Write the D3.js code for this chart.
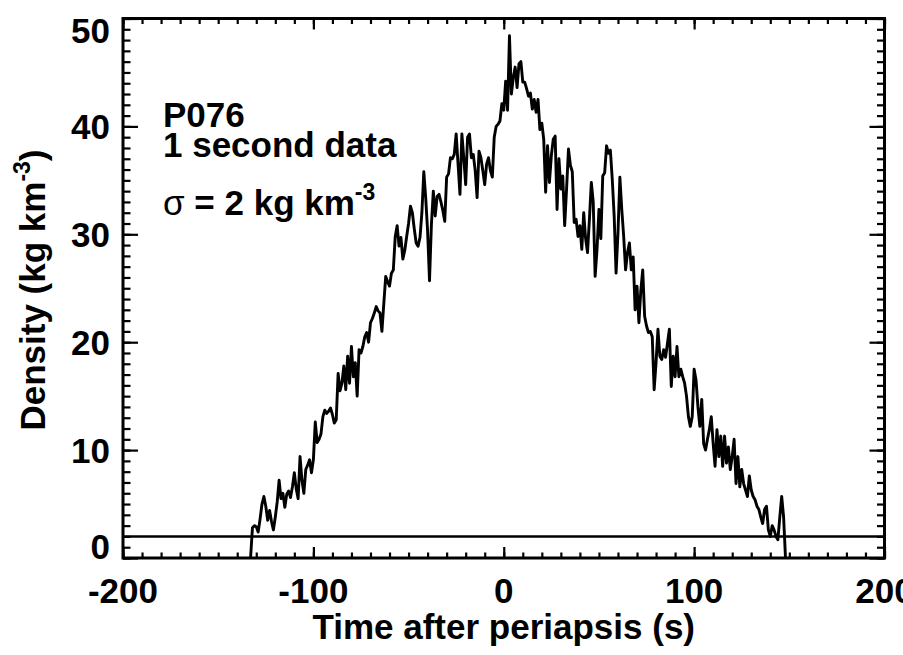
<!DOCTYPE html>
<html>
<head>
<meta charset="utf-8">
<script src="https://cdnjs.cloudflare.com/ajax/libs/d3/7.8.5/d3.min.js"></script>
<style>
  body { margin: 0; background: #fff; }
  svg { display: block; }
  text { font-family: "Liberation Sans", Arial, Helvetica, sans-serif; font-weight: bold; fill: #000; }
</style>
</head>
<body>
<svg id="chart"></svg>
<script>
// P076 density, one sample per second starting at t = -133 s
var startTime = -133;
var density = [
  0, 2.8, 3.0, 2.9, 2.4, 3.6, 5.0, 5.7, 4.8, 3.5,
  4.4, 3.4, 2.6, 3.8, 5.2, 7.2, 5.5, 6.0, 4.7, 5.9,
  6.2, 5.6, 6.6, 7.9, 6.4, 5.5, 9.4, 7.2, 6.0, 8.2,
  8.6, 9.1, 7.9, 9.1, 12.6, 10.7, 11.0, 11.5, 13.1, 13.7,
  13.4, 13.6, 13.9, 13.3, 12.5, 12.8, 17.1, 15.5, 16.2, 17.8,
  15.6, 18.7, 16.2, 19.6, 16.8, 18.1, 15.0, 19.3, 19.0, 19.6,
  20.5, 20.9, 20.0, 21.8, 22.2, 22.7, 23.3, 22.9, 22.7, 21.0,
  23.6, 26.1, 25.6, 25.2, 26.4, 26.7, 29.8, 30.8, 28.9, 29.7,
  27.7, 28.5, 29.8, 31.0, 32.6, 32.0, 30.5, 29.2, 28.9, 29.7,
  32.0, 35.8, 33.4, 30.3, 25.7, 30.9, 34.0, 31.7, 33.5, 33.7,
  33.0, 32.2, 31.2, 35.3, 35.6, 37.1, 37.0, 37.4, 39.3, 36.5,
  33.7, 39.3, 37.1, 34.6, 39.0, 39.3, 37.1, 37.4, 35.9, 33.4,
  37.7, 37.1, 35.9, 34.6, 36.5, 37.1, 35.9, 35.3, 39.0, 40.0,
  40.2, 40.5, 42.1, 41.5, 44.2, 41.5, 48.4, 43.0, 44.5, 45.5,
  43.6, 45.8, 46.0, 44.1, 44.1, 43.5, 42.8, 43.1, 41.6, 42.5,
  41.3, 42.5, 39.7, 40.3, 38.8, 33.9, 38.2, 34.8, 37.3, 38.8,
  39.1, 32.3, 37.0, 34.2, 35.4, 30.8, 34.2, 37.9, 36.4, 35.8,
  31.1, 31.4, 29.8, 30.8, 28.6, 32.0, 29.6, 28.3, 31.4, 34.8,
  33.0, 26.1, 28.6, 32.3, 29.6, 35.4, 35.7, 38.2, 37.5, 37.8,
  35.1, 31.7, 26.4, 30.1, 35.3, 32.3, 29.8, 26.7, 28.3, 29.2,
  26.7, 27.9, 23.0, 25.2, 21.8, 24.8, 26.7, 22.4, 21.5, 20.9,
  21.0, 20.5, 15.6, 18.1, 21.2, 18.7, 18.4, 19.3, 18.6, 19.9,
  21.2, 15.9, 18.7, 16.8, 19.6, 16.8, 17.5, 16.8, 16.2, 15.0,
  13.1, 12.2, 13.1, 17.5, 16.5, 14.0, 12.2, 14.7, 10.6, 10.0,
  11.0, 11.9, 13.1, 10.6, 8.5, 11.9, 9.4, 11.3, 8.5, 11.3,
  8.8, 10.3, 8.2, 9.4, 11.0, 6.9, 9.4, 6.6, 8.2, 6.9,
  6.3, 5.7, 7.6, 6.3, 5.7, 5.4, 4.8, 4.5, 3.8, 3.2,
  4.5, 4.8, 2.6, 2.0, 3.0, 2.6, 2.0, 1.7, 3.8, 5.7,
  3.8, 0
];
var sigmaLevel = 2;

var xTicks = [-200, -100, 0, 100, 200];
var xMinor = d3.range(-200, 201, 10);
var yTicks = [0, 10, 20, 30, 40, 50];
var yMinor = d3.range(0, 51, 1);
var noteLines = ["P076", "1 second data"];

drawChart();

function drawChart()
{
  var width = 903, height = 655;
  var box = { left: 123, right: 884.5, top: 18.5, bottom: 558 };

  var svg = d3.select("#chart")
    .attr("width", width)
    .attr("height", height);

  var xscale = d3.scaleLinear().domain([-200, 200]).range([box.left, box.right]);
  var yscale = d3.scaleLinear().domain([0, 50]).range([box.bottom, box.top]);

  var points = density.map(function(v, i){ return { t: startTime + i, v: v }; });

  //ticks, all pointing inward
  function tickAxis(axis, transform, len, values)
  {
    var g = svg.append("g")
      .attr("transform", transform)
      .call(axis.tickValues(values).tickSizeInner(-len).tickSizeOuter(0).tickFormat(""));
    g.select(".domain").remove();
    g.selectAll("line").attr("stroke", "#000").attr("stroke-width", 2.2);
    g.selectAll("text").remove();
  }
  tickAxis(d3.axisBottom(xscale), "translate(0," + box.bottom + ")", 5.5, xMinor);
  tickAxis(d3.axisBottom(xscale), "translate(0," + box.bottom + ")", 11, xTicks);
  tickAxis(d3.axisTop(xscale), "translate(0," + box.top + ")", 5.5, xMinor);
  tickAxis(d3.axisTop(xscale), "translate(0," + box.top + ")", 11, xTicks);
  tickAxis(d3.axisLeft(yscale), "translate(" + box.left + ",0)", 7.5, yMinor);
  tickAxis(d3.axisLeft(yscale), "translate(" + box.left + ",0)", 15, yTicks);
  tickAxis(d3.axisRight(yscale), "translate(" + box.right + ",0)", 7.5, yMinor);
  tickAxis(d3.axisRight(yscale), "translate(" + box.right + ",0)", 15, yTicks);

  //frame
  svg.append("rect")
    .attr("x", box.left)
    .attr("y", box.top)
    .attr("width", box.right - box.left)
    .attr("height", box.bottom - box.top)
    .attr("fill", "none")
    .attr("stroke", "#000")
    .attr("stroke-width", 3);

  //tick labels
  svg.append("g").selectAll("text")
    .data(xTicks)
    .enter()
    .append("text")
    .attr("x", function(d){ return xscale(d); })
    .attr("y", 603)
    .attr("text-anchor", "middle")
    .style("font-size", "35px")
    .text(function(d){ return d; });

  svg.append("g").selectAll("text")
    .data(yTicks)
    .enter()
    .append("text")
    .attr("x", 110)
    .attr("y", function(d){ return Math.max(30, Math.min(546, yscale(d))) + 12.5; })
    .attr("text-anchor", "end")
    .style("font-size", "35px")
    .text(function(d){ return d; });

  //axis titles
  svg.append("text")
    .attr("x", xscale(0))
    .attr("y", 639)
    .attr("text-anchor", "middle")
    .style("font-size", "35px")
    .text("Time after periapsis (s)");

  var ylab = svg.append("text")
    .attr("transform", "translate(45,290) rotate(-90)")
    .attr("text-anchor", "middle")
    .style("font-size", "35px");
  ylab.append("tspan").text("Density (kg km");
  ylab.append("tspan").attr("dy", -15).style("font-size", "23px").text("-3");
  ylab.append("tspan").attr("dy", 15).text(")");

  //sigma level
  svg.append("line")
    .attr("x1", xscale(-200))
    .attr("x2", xscale(200))
    .attr("y1", yscale(sigmaLevel))
    .attr("y2", yscale(sigmaLevel))
    .attr("stroke", "#000")
    .attr("stroke-width", 2.5);

  //density trace
  var line = d3.line()
    .x(function(d){ return xscale(d.t); })
    .y(function(d){ return yscale(d.v); });

  svg.append("path")
    .datum(points)
    .attr("d", line)
    .attr("fill", "none")
    .attr("stroke", "#000")
    .attr("stroke-width", 2.9)
    .attr("stroke-linejoin", "round");

  //annotations
  svg.append("g").selectAll("text")
    .data(noteLines)
    .enter()
    .append("text")
    .attr("x", 163)
    .attr("y", function(d, i){ return 127 + i * 30; })
    .style("font-size", "35px")
    .text(function(d){ return d; });

  var sig = svg.append("text")
    .attr("x", 163)
    .attr("y", 215)
    .style("font-size", "35px");
  sig.append("tspan").style("font-weight", "normal").text("\u03c3");
  sig.append("tspan").text(" = " + sigmaLevel + " kg km");
  sig.append("tspan").attr("dy", -15).style("font-size", "23px").text("-3");
}
</script>
</body>
</html>
